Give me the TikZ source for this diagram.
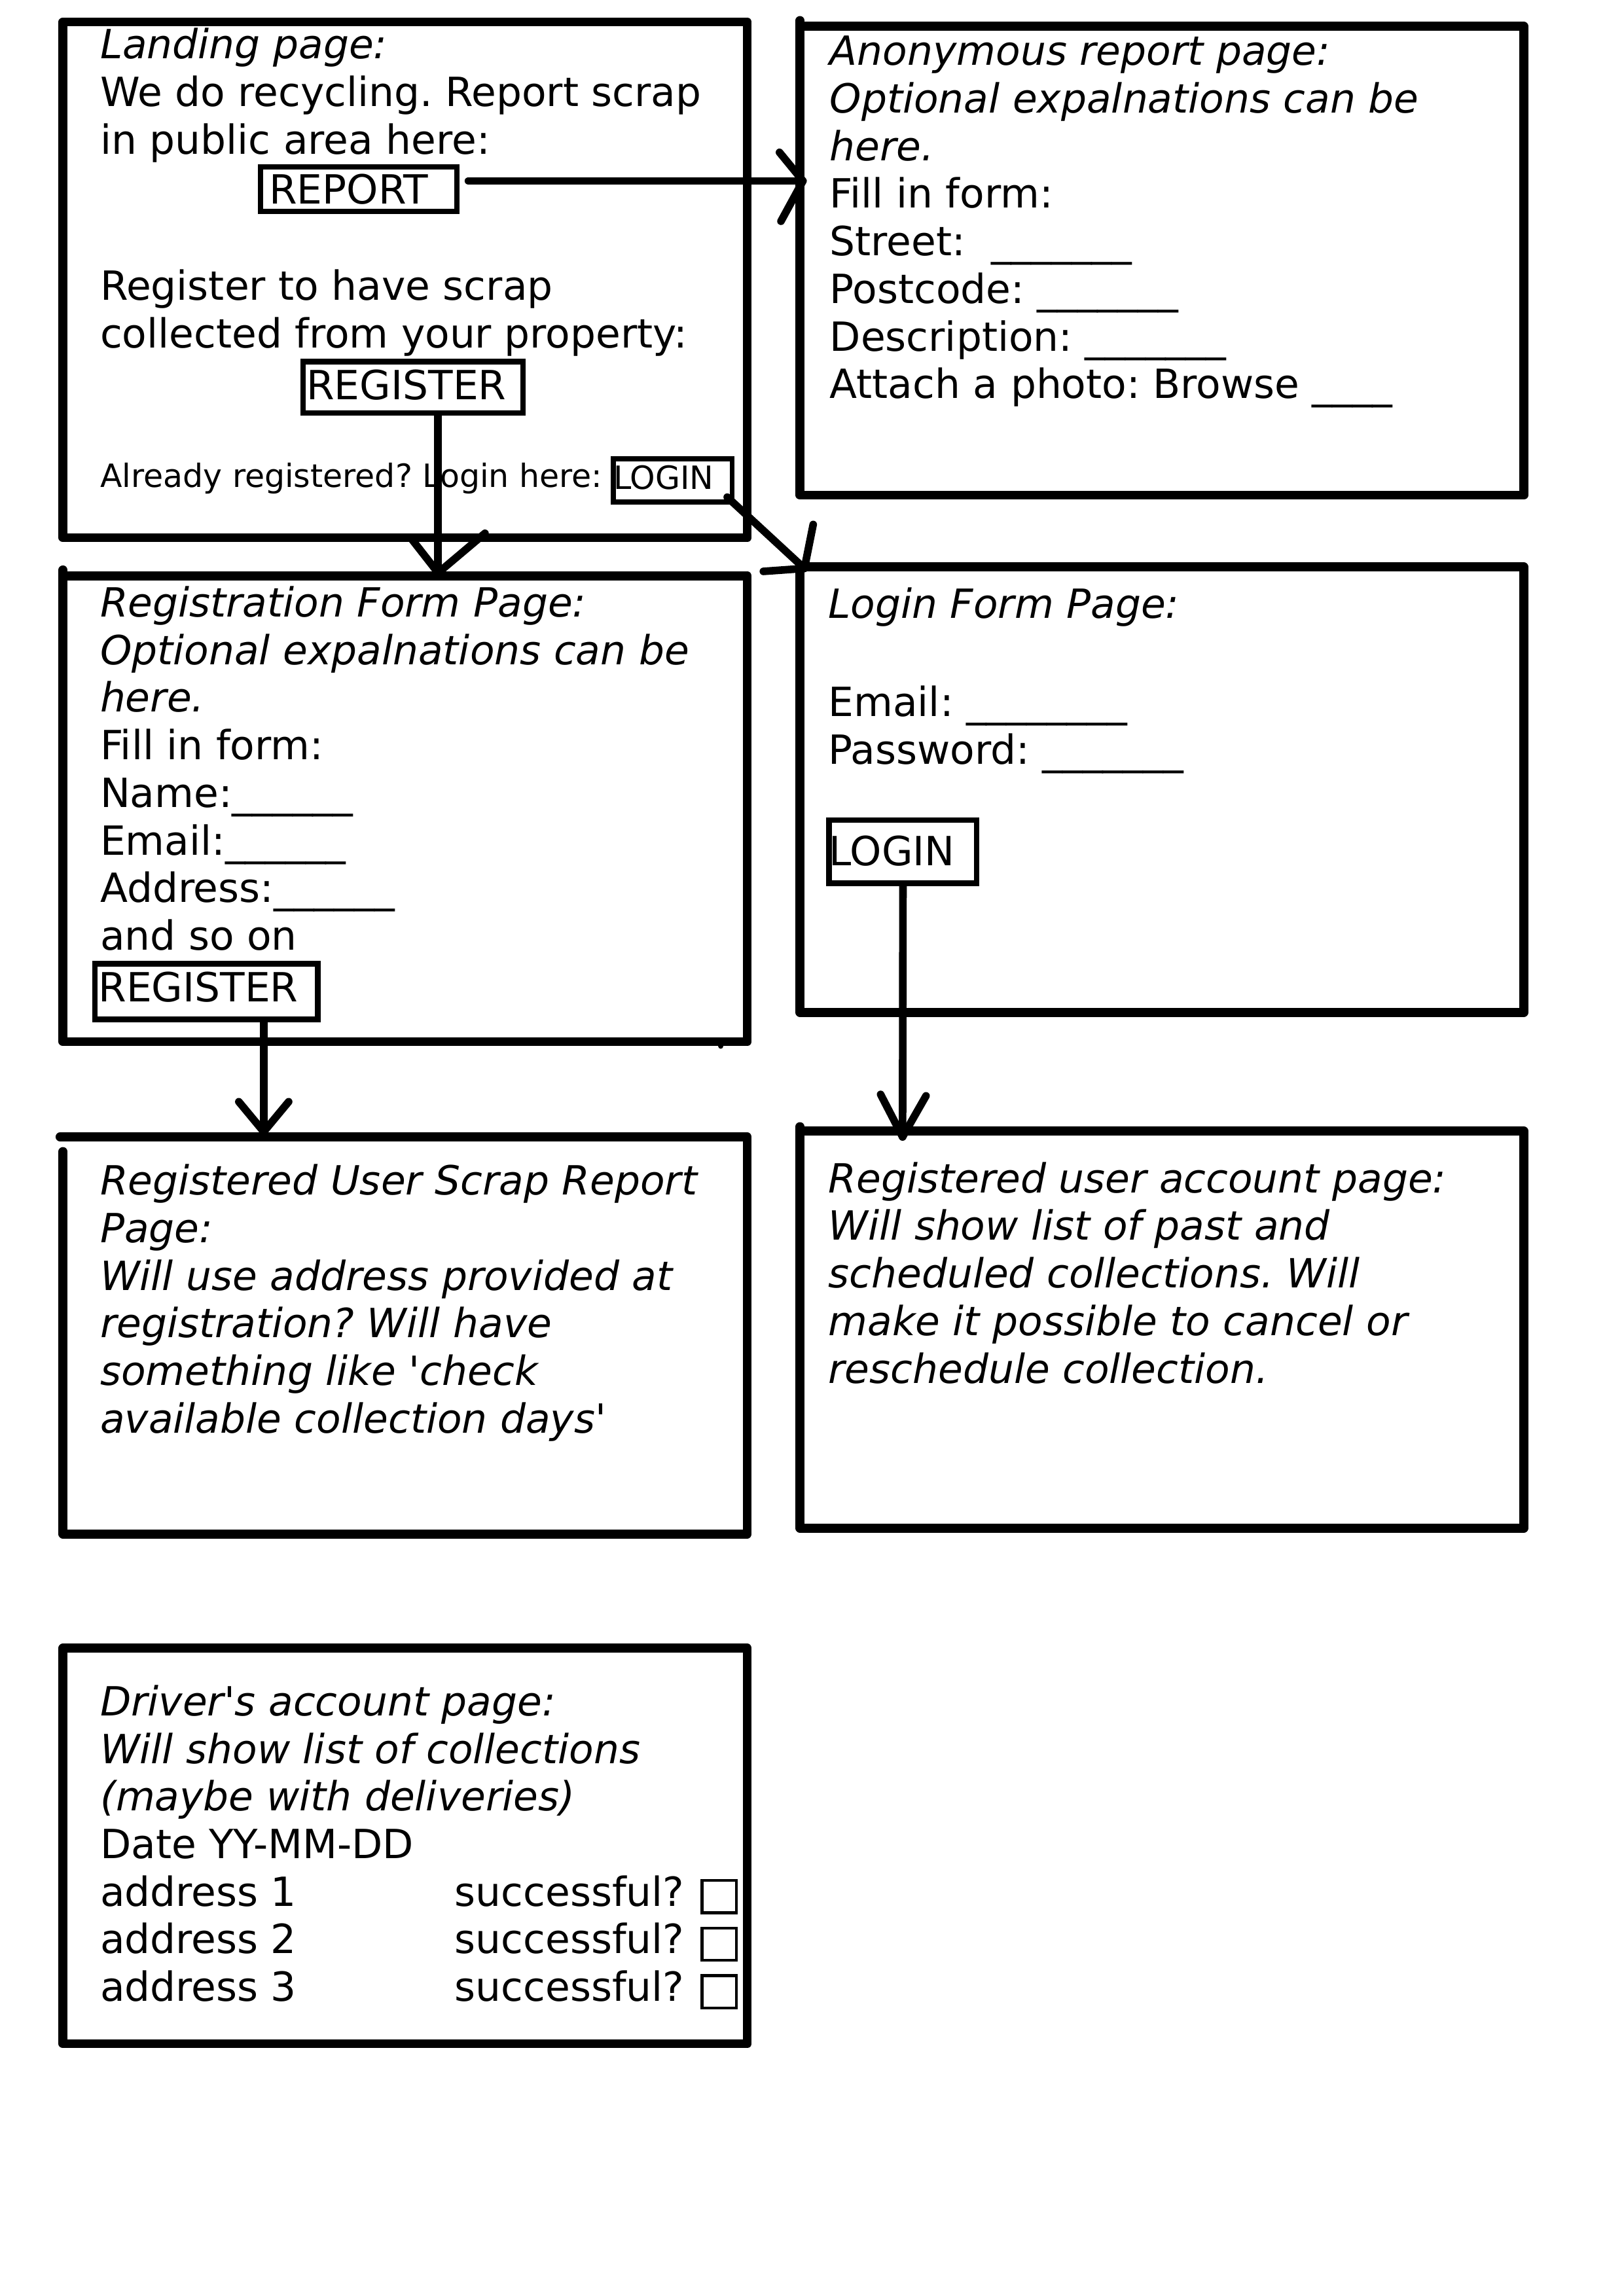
\documentclass[tikz,border=0pt]{standalone}
\usepackage{fontspec}
\setmainfont{DejaVu Sans}
\usetikzlibrary{calc}
\newlength\ulen
\setlength\ulen{0.018953cm}
\def\uu{0.018953cm}
\newcommand\mfont{\fontsize{14.8}{17.52}\selectfont}
\newcommand\smfont{\fontsize{11.8}{14}\selectfont}
\frenchspacing
\begin{document}
\begin{tikzpicture}[x=0.018953cm,y=-0.018953cm,
  page/.style={line width=3.3pt,line cap=round,line join=round},
  btn/.style={draw,line width=2pt,inner sep=0pt,anchor=north west,font=\mfont,text depth=0pt},
  cbox/.style={draw,line width=1.1pt,inner sep=0pt,anchor=north west,minimum width=23.5*\uu,minimum height=22*\uu},
  conn/.style={line width=2.8pt,line cap=round,line join=round},
  txt/.style={anchor=base west,inner sep=0pt,align=left,font=\mfont},
  itxt/.style={txt,font=\mfont\itshape}]
\path[use as bounding box] (0cm,0cm) rectangle (21cm,-29.7cm);

% page frames
\draw[page] (43,15) -- (510,15) -- (510,367) -- (43,367) -- cycle;
\draw[page] (546,14) -- (546,338) -- (1040,338) -- (1040,18) -- (546,18);
\draw[page] (43,389) -- (43,711) -- (510,711) -- (510,393) -- (43,393);
\draw[line width=2pt,line cap=round] (492,711) -- (492,714);
\draw[page] (546,387) -- (1040,387) -- (1040,691) -- (546,691) -- cycle;
\draw[page] (41,776) -- (510,776) -- (510,1047) -- (43,1047) -- (43,786);
\draw[page] (546,769) -- (546,1043) -- (1040,1043) -- (1040,772) -- (546,772);
\draw[page] (43,1125) -- (510,1125) -- (510,1395) -- (43,1395) -- cycle;

% landing page (anchors are on the baseline of the last line)
\node[txt] (land1) at (68,105) {{\itshape Landing page:}\\We do recycling. Report scrap\\in public area here:};
\node[btn,minimum width=134*\uu,minimum height=30.5*\uu,text height=19.7*\uu] (report) at (176,112) {REPORT\kern14\ulen};
\node[txt] (land2) at (68,237.5) {Register to have scrap\\collected from your property:};
\node[btn,minimum width=150*\uu,minimum height=35*\uu,text height=16.4*\uu] (reg1) at (205,245) {REGISTER\kern9\ulen};
\node[txt,font=\smfont] (land3) at (68,332.5) {Already registered? Login here:};
\node[btn,line width=1.8pt,font=\smfont,minimum width=81*\uu,minimum height=29.5*\uu,text height=12.1*\uu] (login1) at (417,311.5) {LOGIN\kern12.5\ulen};

% anonymous report page
\node[txt] (anon) at (566,272) {{\itshape Anonymous report page:}\\{\itshape Optional expalnations can be}\\{\itshape here.}\\Fill in form:\\Street:~~\_\_\_\_\_\_\_\\Postcode: \_\_\_\_\_\_\_\\Description: \_\_\_\_\_\_\_\\Attach a photo: Browse \_\_\_\_};

% registration form page
\node[txt] (regform) at (68,648.5) {{\itshape Registration Form Page:}\\{\itshape Optional expalnations can be}\\{\itshape here.}\\Fill in form:\\Name:\_\_\_\_\_\_\\Email:\_\_\_\_\_\_\\Address:\_\_\_\_\_\_\\and so on};
\node[btn,minimum width=152*\uu,minimum height=38*\uu,text height=14*\uu] (reg2) at (63,656) {REGISTER\kern11\ulen};

% login form page
\node[itxt] (loginhead) at (565,422) {Login Form Page:};
\node[txt] (loginform) at (565,521.5) {Email: \_\_\_\_\_\_\_\_\\Password: \_\_\_\_\_\_\_};
\node[btn,minimum width=98*\uu,minimum height=43*\uu,text height=19*\uu] (login2) at (564,558) {LOGIN\kern15\ulen};

% registered user scrap report page
\node[itxt] (scrap) at (68,978) {Registered User Scrap Report\\Page:\\Will use address provided at\\registration? Will have\\something like \textquotesingle check\\available collection days\textquotesingle};

% registered user account page
\node[itxt] (account) at (565,944) {Registered user account page:\\Will show list of past and\\scheduled collections. Will\\make it possible to cancel or\\reschedule collection.};

% driver's account page
\node[txt] (driver) at (68,1366) {{\itshape Driver\textquotesingle s account page:}\\{\itshape Will show list of collections}\\{\itshape (maybe with deliveries)}\\Date YY-MM-DD\\address 1\\address 2\\address 3};
\node[txt] (checks) at (310,1366) {successful?\\successful?\\successful?};
\node[cbox] (cb1) at (478,1282.5) {};
\node[cbox] (cb2) at (478,1315) {};
\node[cbox] (cb3) at (478,1347.5) {};

% connectors
\coordinate (tip1) at (548,123.5);
\draw[conn] ($(report.east |- tip1)+(6,0)$) -- (tip1);
\draw[conn] ($(tip1)+(-16,-19.5)$) -- (tip1) -- ($(tip1)+(-15,27.5)$);

\coordinate (tip2) at (299,391);
\draw[conn] (tip2 |- reg1.south) -- (tip2);
\draw[conn] ($(tip2)+(-18,-23)$) -- (tip2) -- ($(tip2)+(32,-27)$);

\coordinate (tip3) at (549,388);
\draw[conn] ($(login1.south east)+(-5,-5)$) -- (tip3);
\draw[conn] ($(tip3)+(6,-30)$) -- (tip3) -- ($(tip3)+(-28,2)$);

\coordinate (tip4) at (180,772.5);
\draw[conn] (tip4 |- reg2.south) -- (tip4);
\draw[conn] ($(tip4)+(-17,-20.5)$) -- (tip4) -- ($(tip4)+(17,-20.5)$);

\coordinate (tip5) at (616,776);
\draw[conn] (login2.south) -- (tip5);
\draw[conn] ($(tip5)+(-15,-29)$) -- (tip5) -- ($(tip5)+(16,-28)$);
\end{tikzpicture}
\end{document}
